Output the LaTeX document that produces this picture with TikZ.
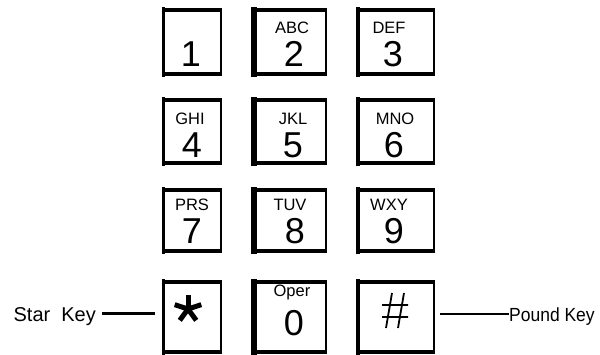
\documentclass[tikz,border=0pt]{standalone}
\usepackage{fontspec}
\setmainfont{Liberation Sans}
\newfontfamily\narrowfont[FakeStretch=0.92]{Liberation Sans}
\begin{document}
\begin{tikzpicture}[x=1pt,y=-1pt,
  digit/.style={anchor=base,inner sep=0pt,font=\fontsize{36}{36}\selectfont},
  letters/.style={anchor=base,inner sep=0pt,font=\fontsize{16.5}{16.5}\selectfont},
  lbl/.style={anchor=base,inner sep=0pt,font=\fontsize{20}{20}\selectfont},
  plbl/.style={anchor=base,inner sep=0pt,font=\narrowfont\fontsize{19}{19}\selectfont},
  heavy/.style={line width=3.5pt},
  thinside/.style={line width=2pt},
  leader/.style={line width=3pt}]
\useasboundingbox (0,0) rectangle (600,354);
\newcommand\drawkey[5]{%
  \draw[line width=#5] (#1,{#3-3}) -- (#1,{#4+3});
  \draw[heavy] (#1,#3) -- ({#2+1},#3);
  \draw[heavy] (#1,#4) -- ({#2+1},#4);
  \draw[thinside] (#2,{#3-2}) -- (#2,{#4+2});
}
% rows: 10/74, 100/163, 190/251, 282/352
\drawkey{163.5}{220.5}{10}{74}{3.5pt}
\drawkey{254}{326}{10}{74}{6.5pt}
\drawkey{358}{433.5}{10}{74}{4pt}
\drawkey{163.5}{220.5}{100}{163}{3.5pt}
\drawkey{254}{326}{100}{163}{6.5pt}
\drawkey{358}{433.5}{100}{163}{4pt}
\drawkey{163.5}{220.5}{190}{251}{3.5pt}
\drawkey{254}{326}{190}{251}{6.5pt}
\drawkey{358}{433.5}{190}{251}{4pt}
\drawkey{163.5}{220.5}{282}{352}{3.5pt}
\drawkey{254}{326}{282}{352}{6.5pt}
\drawkey{358}{433.5}{282}{352}{4pt}
% row 1
\node[digit] (d1) at (191,66) {1};
\node[letters] (l2) at (292,33) {ABC};
\node[digit] (d2) at (294,66) {2};
\node[letters] (l3) at (389,33) {DEF};
\node[digit] (d3) at (393,66) {3};
% row 2
\node[letters] (l4) at (190,124) {GHI};
\node[digit] (d4) at (192,157) {4};
\node[letters] (l5) at (293,124) {JKL};
\node[digit] (d5) at (293,157) {5};
\node[letters] (l6) at (395,124) {MNO};
\node[digit] (d6) at (394,157) {6};
% row 3
\node[letters] (l7) at (192,210) {PRS};
\node[digit] (d7) at (192,243) {7};
\node[letters] (l8) at (290,210) {TUV};
\node[digit] (d8) at (295,243) {8};
\node[letters] (l9) at (389,210) {WXY};
\node[digit] (d9) at (394,243) {9};
% row 4
\coordinate (starc) at (188,309);
\foreach \a in {90,18,162,234,306}
  \draw[line width=5pt] (starc) -- ++(\a:-14);
\node[letters] (l0) at (292,296) {Oper};
\node[digit] (d0) at (294,335) {0};
% pound sign
\coordinate (pa) at (386,328); \coordinate (pb) at (392,293);
\coordinate (pc) at (398,328); \coordinate (pd) at (404,293);
\coordinate (pe) at (382,305); \coordinate (pf) at (408,305);
\coordinate (pg) at (382,317); \coordinate (ph) at (408,317);
\draw[line width=1.8pt] (pa) -- (pb) (pc) -- (pd) (pe) -- (pf) (pg) -- (ph);
% labels and leaders
\node[lbl,anchor=base east] (star) at (96,321) {Star\hspace{11pt}Key};
\node[plbl,anchor=base west] (pound) at (509,321) {Pound Key};
\coordinate (sl) at (102,313); \coordinate (sr) at (155,313);
\coordinate (pl) at (440,314);
\draw[leader] (sl) -- (sr);
\draw[leader,line width=2.5pt] (pl) -- (pound.west |- pl);
\end{tikzpicture}
\end{document}
